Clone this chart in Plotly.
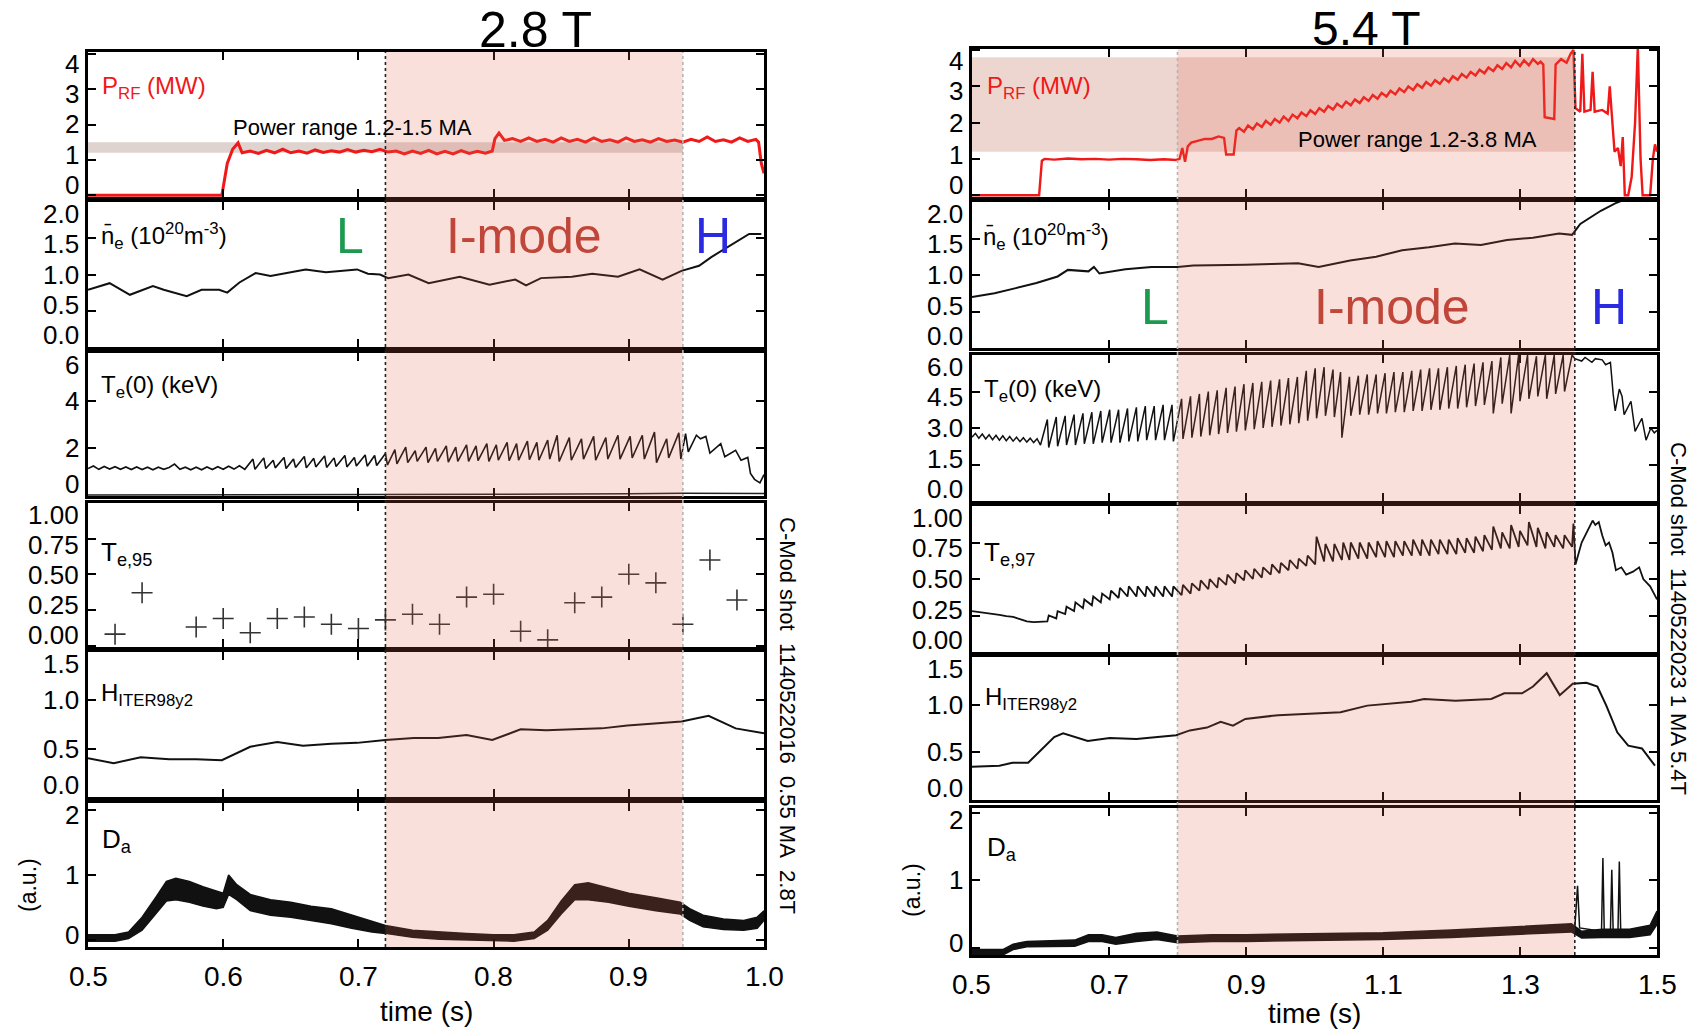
import plotly.graph_objects as go

W, H = 1699, 1030
FONT = "Liberation Sans, Arial, sans-serif"

# ----------------------------------------------------------------------
# Shot 1140522016 (2.8 T, 0.55 MA)
# ----------------------------------------------------------------------
prf28_t = [0.500, 0.599, 0.603, 0.607, 0.611, 0.614, 0.620, 0.626, 0.632, 0.638, 0.644, 0.650,
           0.656, 0.662, 0.668, 0.674, 0.680, 0.686, 0.692, 0.698, 0.704, 0.710, 0.716, 0.722,
           0.728, 0.734, 0.740, 0.746, 0.752, 0.758, 0.764, 0.770, 0.776, 0.782, 0.788, 0.794,
           0.799, 0.801, 0.804, 0.808, 0.814, 0.820, 0.826, 0.832, 0.838, 0.844, 0.850, 0.856,
           0.862, 0.868, 0.874, 0.880, 0.886, 0.892, 0.898, 0.904, 0.910, 0.916, 0.922, 0.928,
           0.934, 0.940, 0.946, 0.952, 0.958, 0.964, 0.970, 0.976, 0.982, 0.988, 0.994, 0.996,
           0.998, 1.000]
prf28_v = [0.00, 0.00, 0.90, 1.30, 1.48, 1.20, 1.25, 1.18, 1.27, 1.20, 1.30, 1.20,
           1.25, 1.19, 1.28, 1.21, 1.26, 1.22, 1.29, 1.22, 1.27, 1.23, 1.30, 1.22,
           1.25, 1.17, 1.25, 1.18, 1.27, 1.17, 1.24, 1.17, 1.26, 1.18, 1.24, 1.19,
           1.25, 1.60, 1.76, 1.55, 1.60, 1.52, 1.62, 1.52, 1.58, 1.50, 1.62, 1.52,
           1.58, 1.50, 1.62, 1.52, 1.57, 1.50, 1.62, 1.52, 1.57, 1.50, 1.60, 1.52,
           1.56, 1.50, 1.58, 1.52, 1.65, 1.52, 1.57, 1.50, 1.62, 1.52, 1.58, 1.50,
           0.90, 0.62]
power_band_28 = [1.2, 1.5]

ne28_t = [0.500, 0.516, 0.531, 0.548, 0.556, 0.573, 0.584, 0.597, 0.603, 0.612, 0.624, 0.635,
          0.661, 0.676, 0.699, 0.707, 0.716, 0.722, 0.737, 0.752, 0.775, 0.797, 0.816, 0.824,
          0.835, 0.858, 0.873, 0.892, 0.908, 0.925, 0.939, 0.952, 0.961, 0.978, 0.989, 0.998]
ne28_v = [0.79, 0.88, 0.72, 0.84, 0.79, 0.70, 0.79, 0.79, 0.75, 0.89, 1.02, 0.98,
          1.07, 1.03, 1.07, 1.01, 1.00, 0.95, 1.00, 0.88, 0.97, 0.86, 0.93, 0.85,
          0.95, 0.97, 1.01, 0.97, 1.07, 0.93, 1.05, 1.12, 1.24, 1.44, 1.56, 1.56]

te0_28_t = [0.500, 0.504, 0.508, 0.512, 0.516, 0.520, 0.524, 0.528, 0.532, 0.536, 0.540, 0.544,
            0.548, 0.552, 0.556, 0.560, 0.564, 0.568, 0.572, 0.576, 0.580, 0.584, 0.588, 0.592,
            0.596, 0.600, 0.604, 0.608, 0.612, 0.616,
            0.622, 0.6235, 0.630, 0.6315, 0.637, 0.6385, 0.645, 0.6465, 0.652, 0.6535, 0.660, 0.6615,
            0.667, 0.6685, 0.675, 0.6765, 0.682, 0.6835, 0.690, 0.6915, 0.697, 0.6985, 0.705, 0.7065,
            0.712, 0.7135, 0.720, 0.7215,
            0.727, 0.7285, 0.735, 0.7365, 0.742, 0.7435, 0.750, 0.7515, 0.757, 0.7585, 0.765, 0.7665,
            0.772, 0.7735, 0.780, 0.7815, 0.787, 0.7885, 0.795, 0.7965, 0.802, 0.8035, 0.810, 0.8115,
            0.817, 0.8185, 0.825, 0.8265, 0.832, 0.8335, 0.840, 0.8415, 0.847, 0.8485,
            0.856, 0.8575, 0.865, 0.8665, 0.874, 0.8755, 0.883, 0.8845, 0.892, 0.8935, 0.901, 0.9025,
            0.910, 0.9115, 0.919, 0.9205, 0.928, 0.9295, 0.937, 0.9385,
            0.942, 0.944, 0.950, 0.953, 0.957, 0.960, 0.968, 0.971, 0.979, 0.983, 0.988, 0.990,
            0.993, 0.997, 1.000]
te0_28_v = [1.15, 1.26, 1.12, 1.24, 1.13, 1.23, 1.12, 1.22, 1.11, 1.22, 1.11, 1.21,
            1.10, 1.21, 1.12, 1.20, 1.34, 1.12, 1.21, 1.10, 1.21, 1.10, 1.22, 1.11,
            1.23, 1.12, 1.25, 1.13, 1.27, 1.12,
            1.55, 1.12, 1.60, 1.15, 1.50, 1.18, 1.62, 1.15, 1.55, 1.20, 1.66, 1.18,
            1.58, 1.22, 1.68, 1.20, 1.60, 1.24, 1.70, 1.22, 1.62, 1.26, 1.72, 1.25,
            1.70, 1.28, 1.78, 1.30,
            1.95, 1.35, 2.05, 1.40, 1.90, 1.45, 2.05, 1.40, 2.00, 1.45, 2.10, 1.42,
            2.05, 1.45, 2.15, 1.45, 2.10, 1.48, 2.20, 1.45, 2.15, 1.50, 2.25, 1.48,
            2.20, 1.50, 2.30, 1.52, 2.25, 1.50, 2.35, 1.55, 2.55, 1.45,
            2.45, 1.50, 2.40, 1.55, 2.50, 1.50, 2.45, 1.55, 2.55, 1.55, 2.50, 1.60,
            2.55, 1.55, 2.68, 1.40, 2.40, 1.60, 2.65, 1.55,
            2.62, 1.85, 2.55, 2.40, 2.50, 1.80, 2.20, 1.65, 1.92, 1.50, 1.62, 0.95,
            0.70, 0.55, 0.90]
te0_28_floor_t = [0.50, 0.72, 0.80, 0.90, 0.94, 1.00]
te0_28_floor_v = [0.04, 0.05, 0.07, 0.09, 0.12, 0.10]

te95_t = [0.52, 0.54, 0.58, 0.60, 0.62, 0.64, 0.66, 0.68, 0.70, 0.72, 0.74, 0.76,
          0.78, 0.80, 0.82, 0.84, 0.86, 0.88, 0.90, 0.92, 0.94, 0.96, 0.98]
te95_v = [0.08, 0.37, 0.13, 0.19, 0.09, 0.19, 0.20, 0.15, 0.12, 0.18, 0.22, 0.15,
          0.34, 0.36, 0.10, 0.04, 0.30, 0.34, 0.50, 0.44, 0.15, 0.60, 0.32]

h28_t = [0.500, 0.519, 0.539, 0.560, 0.580, 0.599, 0.620, 0.640, 0.659, 0.680, 0.699, 0.720,
         0.741, 0.759, 0.780, 0.799, 0.820, 0.839, 0.859, 0.880, 0.899, 0.920, 0.939, 0.959,
         0.979, 1.000]
h28_v = [0.40, 0.35, 0.41, 0.39, 0.39, 0.38, 0.52, 0.57, 0.53, 0.55, 0.56, 0.59,
         0.61, 0.61, 0.64, 0.59, 0.70, 0.69, 0.70, 0.71, 0.74, 0.76, 0.78, 0.84,
         0.71, 0.66]

da28_t = [0.500, 0.520, 0.530, 0.540, 0.550, 0.558, 0.565, 0.575, 0.585, 0.595, 0.600, 0.604,
          0.610, 0.620, 0.635, 0.650, 0.665, 0.680, 0.695, 0.710, 0.720, 0.740, 0.760, 0.780,
          0.800, 0.815, 0.830, 0.840, 0.850, 0.860, 0.870, 0.885, 0.900, 0.920, 0.938, 0.945,
          0.955, 0.970, 0.985, 0.995, 1.000]
da28_lo = [-0.02, -0.02, 0.02, 0.15, 0.40, 0.60, 0.62, 0.58, 0.52, 0.48, 0.50, 0.70,
           0.62, 0.45, 0.38, 0.35, 0.30, 0.25, 0.18, 0.12, 0.10, 0.04, 0.01, 0.00,
           -0.02, -0.02, 0.02, 0.15, 0.40, 0.62, 0.62, 0.58, 0.52, 0.45, 0.40, 0.30,
           0.20, 0.16, 0.15, 0.18, 0.30]
da28_hi = [0.08, 0.08, 0.12, 0.35, 0.65, 0.90, 0.95, 0.90, 0.82, 0.75, 0.72, 1.00,
           0.85, 0.70, 0.62, 0.58, 0.52, 0.48, 0.38, 0.28, 0.22, 0.15, 0.12, 0.10,
           0.08, 0.08, 0.12, 0.30, 0.60, 0.85, 0.88, 0.80, 0.72, 0.65, 0.58, 0.48,
           0.38, 0.32, 0.30, 0.35, 0.45]

# ----------------------------------------------------------------------
# Shot 1140522023 (5.4 T, 1 MA)
# ----------------------------------------------------------------------
prf54_t = [0.500, 0.598, 0.602, 0.606, 0.620, 0.640, 0.660, 0.680, 0.700, 0.720, 0.740, 0.760,
           0.780, 0.798, 0.803, 0.807, 0.811, 0.815, 0.820, 0.830, 0.840, 0.850, 0.860, 0.868,
           0.871, 0.882, 0.886,
           0.890, 0.897, 0.903, 0.910, 0.916, 0.923, 0.929, 0.936, 0.942, 0.949, 0.955, 0.962,
           0.968, 0.975, 0.981, 0.988, 0.994, 1.001, 1.007, 1.014, 1.020, 1.027, 1.033, 1.040,
           1.046, 1.053, 1.059, 1.066, 1.072, 1.079, 1.085, 1.092, 1.098, 1.105, 1.111, 1.118,
           1.124, 1.131, 1.137, 1.144, 1.150, 1.157, 1.163, 1.170, 1.176, 1.183, 1.189, 1.196,
           1.202, 1.209, 1.215, 1.222, 1.228, 1.235, 1.241, 1.248, 1.254, 1.261, 1.267, 1.274,
           1.280, 1.287, 1.293, 1.300, 1.306, 1.313, 1.319, 1.326, 1.330,
           1.334, 1.336, 1.350, 1.352, 1.360, 1.368, 1.374, 1.378, 1.381, 1.388, 1.391, 1.394,
           1.403, 1.406, 1.409, 1.420, 1.428, 1.431, 1.434, 1.438, 1.443, 1.447, 1.450, 1.453,
           1.458, 1.463, 1.468, 1.472, 1.476, 1.479, 1.490, 1.494, 1.497, 1.500]
prf54_v = [0.00, 0.00, 0.95, 1.00, 0.98, 1.01, 0.99, 1.00, 0.98, 1.00, 0.99, 0.97,
           0.99, 0.97, 1.00, 1.30, 0.92, 1.35, 1.45, 1.50, 1.55, 1.55, 1.62, 1.58,
           1.12, 1.12, 1.78,
           1.85, 1.75, 1.92, 1.82, 1.98, 1.88, 2.05, 1.94, 2.10, 2.00, 2.17, 2.05,
           2.22, 2.12, 2.28, 2.18, 2.34, 2.24, 2.40, 2.30, 2.46, 2.36, 2.52, 2.42,
           2.58, 2.48, 2.64, 2.54, 2.70, 2.60, 2.76, 2.66, 2.82, 2.72, 2.88, 2.78,
           2.94, 2.84, 3.00, 2.90, 3.06, 2.96, 3.12, 3.02, 3.17, 3.07, 3.22, 3.12,
           3.28, 3.18, 3.34, 3.24, 3.40, 3.30, 3.46, 3.36, 3.52, 3.42, 3.58, 3.48,
           3.64, 3.52, 3.70, 3.56, 3.72, 3.58, 3.75, 3.62, 3.68,
           3.60, 2.15, 2.10, 3.60, 3.75, 3.65, 3.90, 4.00, 2.40, 2.30, 3.90, 2.30,
           2.35, 3.40, 2.30, 2.35, 2.25, 3.00, 2.20, 1.20, 1.30, 0.80, 1.60, 0.00,
           0.00, 0.50, 2.00, 4.10, 1.00, 0.00, 0.00, 1.00, 1.40, 1.20]
power_band_54 = [1.2, 3.8]

ne54_t = [0.500, 0.533, 0.564, 0.594, 0.625, 0.640, 0.670, 0.678, 0.686, 0.724, 0.762, 0.800,
          0.823, 0.861, 0.899, 0.937, 0.976, 1.006, 1.052, 1.090, 1.128, 1.167, 1.205, 1.243,
          1.281, 1.319, 1.357, 1.376, 1.388, 1.418, 1.441, 1.460]
ne54_v = [0.70, 0.75, 0.82, 0.89, 0.98, 1.07, 1.05, 1.11, 1.02, 1.08, 1.11, 1.11,
          1.13, 1.13, 1.14, 1.15, 1.16, 1.11, 1.20, 1.25, 1.34, 1.38, 1.43, 1.41,
          1.48, 1.51, 1.57, 1.55, 1.70, 1.88, 1.99, 2.06]

te0_54_t = [0.500, 0.505, 0.510, 0.515, 0.520, 0.525, 0.530, 0.535, 0.540, 0.545, 0.550, 0.555,
            0.560, 0.565, 0.570, 0.575, 0.580, 0.585, 0.590, 0.595, 0.600,
            0.610, 0.612, 0.623, 0.625, 0.636, 0.638, 0.649, 0.651, 0.662, 0.664, 0.675, 0.677,
            0.688, 0.690, 0.701, 0.703, 0.714, 0.716, 0.727, 0.729, 0.740, 0.742, 0.753, 0.755,
            0.766, 0.768, 0.779, 0.781, 0.792, 0.794,
            0.806, 0.808, 0.819, 0.821, 0.832, 0.834, 0.845, 0.847, 0.858, 0.860, 0.871, 0.873,
            0.884, 0.886, 0.897, 0.899, 0.910, 0.912, 0.923, 0.925, 0.936, 0.938, 0.949, 0.951,
            0.962, 0.964, 0.975, 0.977, 0.988, 0.990,
            1.001, 1.003, 1.014, 1.016, 1.027, 1.029, 1.038, 1.040, 1.051, 1.053, 1.064, 1.066,
            1.077, 1.079, 1.090, 1.092, 1.103, 1.105, 1.116, 1.118, 1.129, 1.131, 1.142, 1.144,
            1.155, 1.157, 1.168, 1.170, 1.181, 1.183, 1.194, 1.196, 1.207, 1.209, 1.220, 1.222,
            1.233, 1.235, 1.246, 1.248, 1.259, 1.261, 1.272, 1.274, 1.285, 1.287, 1.298, 1.300,
            1.311, 1.313, 1.324, 1.326, 1.337, 1.339, 1.350, 1.352, 1.363, 1.365, 1.376,
            1.380, 1.390, 1.395, 1.405, 1.410, 1.420, 1.425, 1.432, 1.436, 1.439, 1.445, 1.449,
            1.452, 1.462, 1.468, 1.478, 1.484, 1.491, 1.496, 1.500]
te0_54_v = [2.62, 2.78, 2.58, 2.75, 2.55, 2.72, 2.52, 2.70, 2.50, 2.68, 2.48, 2.65,
            2.46, 2.62, 2.44, 2.60, 2.42, 2.58, 2.40, 2.56, 2.30,
            3.35, 2.20, 3.45, 2.25, 3.50, 2.30, 3.55, 2.30, 3.60, 2.35, 3.65, 2.35,
            3.70, 2.40, 3.75, 2.40, 3.75, 2.40, 3.80, 2.45, 3.85, 2.45, 3.90, 2.50,
            3.90, 2.50, 3.95, 2.50, 3.95, 2.45,
            4.20, 2.55, 4.30, 2.60, 4.40, 2.65, 4.50, 2.70, 4.55, 2.75, 4.65, 2.80,
            4.70, 2.85, 4.80, 2.90, 4.85, 2.95, 4.90, 3.00, 4.95, 3.05, 5.00, 3.10,
            5.05, 3.15, 5.10, 3.20, 5.35, 3.30,
            5.45, 3.40, 5.50, 3.50, 5.40, 3.45, 5.30, 2.60, 5.10, 3.50, 5.15, 3.55,
            5.20, 3.55, 5.20, 3.60, 5.25, 3.60, 5.30, 3.65, 5.30, 3.65, 5.35, 3.70,
            5.40, 3.70, 5.45, 3.75, 5.45, 3.75, 5.50, 3.80, 5.55, 3.80, 5.60, 3.85,
            5.65, 3.90, 5.70, 3.95, 5.75, 3.60, 5.90, 4.00, 6.00, 3.60, 6.00, 4.10,
            6.00, 4.20, 5.95, 4.30, 6.00, 4.20, 6.00, 4.40, 6.00, 4.50, 6.00,
            5.85, 5.75, 5.90, 5.70, 5.85, 5.80, 5.60, 5.70, 4.40, 3.70, 4.60, 4.30,
            3.55, 4.10, 2.86, 3.40, 2.50, 3.00, 2.80, 2.90]

te97_t = [0.500, 0.510, 0.520, 0.530, 0.540, 0.550, 0.560, 0.570, 0.580, 0.590, 0.600, 0.605,
          0.610, 0.612, 0.623, 0.625, 0.636, 0.638, 0.649, 0.651, 0.662, 0.664, 0.675, 0.677,
          0.688, 0.690, 0.701, 0.703, 0.714, 0.716, 0.727, 0.729, 0.740, 0.742, 0.753, 0.755,
          0.766, 0.768, 0.779, 0.781, 0.792, 0.794,
          0.806, 0.808, 0.819, 0.821, 0.832, 0.834, 0.845, 0.847, 0.858, 0.860, 0.871, 0.873,
          0.884, 0.886, 0.897, 0.899, 0.910, 0.912, 0.923, 0.925, 0.936, 0.938, 0.949, 0.951,
          0.962, 0.964, 0.975, 0.977, 0.988, 0.990,
          1.001, 1.003, 1.014, 1.016, 1.027, 1.029, 1.040, 1.042, 1.051, 1.053, 1.064, 1.066,
          1.077, 1.079, 1.090, 1.092, 1.103, 1.105, 1.116, 1.118, 1.129, 1.131, 1.142, 1.144,
          1.155, 1.157, 1.168, 1.170, 1.181, 1.183, 1.194, 1.196, 1.207, 1.209, 1.220, 1.222,
          1.233, 1.235, 1.246, 1.248, 1.259, 1.261, 1.272, 1.274, 1.285, 1.287, 1.298, 1.300,
          1.311, 1.313, 1.324, 1.326, 1.337, 1.339, 1.350, 1.352, 1.363, 1.365, 1.376, 1.378,
          1.381, 1.390, 1.400, 1.406, 1.410, 1.415, 1.420, 1.425, 1.430, 1.435, 1.440, 1.448,
          1.455, 1.465, 1.474, 1.480, 1.490, 1.500]
te97_v = [0.28, 0.275, 0.27, 0.26, 0.255, 0.245, 0.24, 0.225, 0.21, 0.205, 0.205, 0.21,
          0.21, 0.25, 0.23, 0.28, 0.26, 0.31, 0.28, 0.34, 0.30, 0.36, 0.32, 0.38,
          0.34, 0.40, 0.36, 0.42, 0.37, 0.44, 0.38, 0.45, 0.38, 0.45, 0.38, 0.45,
          0.38, 0.45, 0.38, 0.45, 0.38, 0.45,
          0.39, 0.46, 0.40, 0.47, 0.42, 0.49, 0.43, 0.50, 0.44, 0.51, 0.46, 0.53,
          0.47, 0.54, 0.49, 0.56, 0.50, 0.57, 0.51, 0.58, 0.53, 0.60, 0.54, 0.61,
          0.56, 0.63, 0.57, 0.64, 0.59, 0.66,
          0.60, 0.79, 0.62, 0.74, 0.62, 0.74, 0.63, 0.75, 0.63, 0.75, 0.64, 0.75,
          0.64, 0.75, 0.65, 0.76, 0.65, 0.76, 0.65, 0.76, 0.66, 0.76, 0.66, 0.77,
          0.66, 0.77, 0.66, 0.77, 0.67, 0.77, 0.67, 0.77, 0.67, 0.78, 0.68, 0.78,
          0.68, 0.79, 0.69, 0.80, 0.70, 0.86, 0.71, 0.82, 0.71, 0.87, 0.72, 0.83,
          0.73, 0.89, 0.72, 0.85, 0.71, 0.82, 0.72, 0.80, 0.71, 0.80, 0.72, 0.88,
          0.60, 0.75, 0.85, 0.90, 0.87, 0.89, 0.80, 0.73, 0.75, 0.68, 0.56, 0.58,
          0.53, 0.55, 0.58, 0.50, 0.45, 0.36]

h54_t = [0.500, 0.540, 0.559, 0.582, 0.620, 0.633, 0.669, 0.701, 0.740, 0.798, 0.818, 0.843,
         0.863, 0.881, 0.899, 0.947, 1.038, 1.077, 1.141, 1.160, 1.206, 1.258, 1.277, 1.303,
         1.319, 1.339, 1.358, 1.377, 1.397, 1.413, 1.426, 1.442, 1.458, 1.478, 1.497]
h54_v = [0.35, 0.36, 0.39, 0.39, 0.66, 0.70, 0.62, 0.65, 0.64, 0.68, 0.73, 0.76,
         0.82, 0.78, 0.85, 0.89, 0.92, 0.99, 1.03, 1.06, 1.04, 1.06, 1.12, 1.12,
         1.19, 1.33, 1.10, 1.22, 1.23, 1.19, 0.99, 0.71, 0.57, 0.54, 0.36]

da54_t = [0.500, 0.545, 0.560, 0.580, 0.650, 0.670, 0.690, 0.710, 0.740, 0.770, 0.800, 0.850,
          0.900, 1.000, 1.100, 1.200, 1.300, 1.375, 1.390, 1.420, 1.460, 1.490, 1.500]
da54_lo = [-0.10, -0.10, -0.02, 0.02, 0.03, 0.10, 0.10, 0.06, 0.10, 0.13, 0.08, 0.10,
           0.10, 0.11, 0.13, 0.16, 0.20, 0.24, 0.15, 0.16, 0.16, 0.20, 0.35]
da54_hi = [-0.02, -0.02, 0.06, 0.10, 0.12, 0.20, 0.20, 0.16, 0.22, 0.24, 0.18, 0.20,
           0.20, 0.21, 0.23, 0.27, 0.32, 0.36, 0.25, 0.28, 0.28, 0.34, 0.55]
elm_t = [1.380, 1.384, 1.387, 1.419, 1.421, 1.423, 1.432, 1.434, 1.436, 1.443, 1.445, 1.447]
elm_v = [0.30, 0.92, 0.30, 0.25, 1.33, 0.25, 0.25, 1.16, 0.25, 0.25, 1.28, 0.25]

# mode boundaries (s)
imode_28 = [0.72, 0.94]
imode_54 = [0.80, 1.38]

# time axes
xt_28 = [0.5, 0.6, 0.7, 0.8, 0.9, 1.0]
xt_54 = [0.5, 0.7, 0.9, 1.1, 1.3, 1.5]

# ----------------------------------------------------------------------
# Panel geometry (pixel rows) and axes
# ----------------------------------------------------------------------
left_cols = (88, 764)
right_cols = (972, 1657)

left_panels = [
    (52, 197, [-0.05, 4.05], [0, 1, 2, 3, 4], ["0", "1", "2", "3", "4"]),
    (202, 347, [0, 2.0], [0, 0.5, 1, 1.5, 2], ["0.0", "0.5", "1.0", "1.5", "2.0"]),
    (353, 496, [0, 6], [0, 2, 4, 6], ["0", "2", "4", "6"]),
    (503, 647, [-0.01, 1.0], [0, 0.25, 0.5, 0.75, 1.0], ["0.00", "0.25", "0.50", "0.75", "1.00"]),
    (652, 797, [0, 1.5], [0, 0.5, 1.0, 1.5], ["0.0", "0.5", "1.0", "1.5"]),
    (803, 947, [-0.11, 2.11], [0, 1, 2], ["0", "1", "2"]),
]
right_panels = [
    (49, 197, [-0.05, 4.03], [0, 1, 2, 3, 4], ["0", "1", "2", "3", "4"]),
    (202, 348, [0, 2.0], [0, 0.5, 1, 1.5, 2], ["0.0", "0.5", "1.0", "1.5", "2.0"]),
    (355, 501, [0, 6.0], [0, 1.5, 3.0, 4.5, 6.0], ["0.0", "1.5", "3.0", "4.5", "6.0"]),
    (506, 652, [0, 1.0], [0, 0.25, 0.5, 0.75, 1.0], ["0.00", "0.25", "0.50", "0.75", "1.00"]),
    (657, 800, [0, 1.5], [0, 0.5, 1.0, 1.5], ["0.0", "0.5", "1.0", "1.5"]),
    (808, 955, [-0.1, 2.07], [0, 1, 2], ["0", "1", "2"]),
]


def px(xp):
    return xp / W


def py(yp):
    return 1 - yp / H


layout = dict(
    width=W, height=H,
    margin=dict(l=0, r=0, t=0, b=0, pad=0, autoexpand=False),
    paper_bgcolor="white", plot_bgcolor="rgba(0,0,0,0)",
    showlegend=False,
    font=dict(family=FONT, color="black"),
)

axis_common = dict(
    showline=True, linecolor="black", linewidth=2.5, mirror="ticks",
    ticks="inside", ticklen=8, tickwidth=2, tickcolor="black",
    showgrid=False, zeroline=False, fixedrange=True,
    showticklabels=False, automargin=False,
)

ann = []
TICK_SIZE = 26
EDGE = 12   # keep tick labels this far inside their own panel
GAP = 30    # smallest spacing between neighbouring tick labels


def label_rows(top, bot, yr, yv):
    """Pixel rows for the y tick labels: clamped inside the panel, evenly spread if crowded."""
    rows = [top + (yr[1] - v) / (yr[1] - yr[0]) * (bot - top) for v in yv]
    order = sorted(range(len(rows)), key=lambda k: rows[k])
    pos = [min(max(rows[k], top + EDGE), bot - EDGE) for k in order]
    for j in range(1, len(pos)):
        pos[j] = max(pos[j], pos[j - 1] + GAP)
    pos[-1] = min(pos[-1], bot - EDGE)
    for j in range(len(pos) - 2, -1, -1):
        pos[j] = min(pos[j], pos[j + 1] - GAP)
    out = [0.0] * len(rows)
    for j, k in enumerate(order):
        out[k] = rows[k] - pos[j]
    return out


for col, (cols, panels, xr, xt, xlab_y) in enumerate([
        (left_cols, left_panels, [0.5, 1.0], xt_28, 976),
        (right_cols, right_panels, [0.5, 1.5], xt_54, 984)]):
    for i, (top, bot, yr, yv, yt) in enumerate(panels):
        n = col * 6 + i + 1
        sfx = "" if n == 1 else str(n)
        layout["xaxis" + sfx] = dict(
            axis_common, domain=[px(cols[0]), px(cols[1])], range=xr,
            tickvals=xt, anchor="y" + sfx,
        )
        layout["yaxis" + sfx] = dict(
            axis_common, domain=[py(bot), py(top)], range=yr,
            tickvals=yv, anchor="x" + sfx,
        )
        for v, s, shift in zip(yv, yt, label_rows(top, bot, yr, yv)):
            ann.append(dict(x=px(cols[0] - 8), xref="paper", y=v, yref="y" + sfx,
                            yshift=shift, text=s, showarrow=False, xanchor="right",
                            yanchor="middle", borderpad=0,
                            font=dict(family=FONT, size=TICK_SIZE, color="black")))
    # x tick labels under the bottom panel
    sfx = str(col * 6 + 6)
    for v in xt:
        ann.append(dict(x=v, xref="x" + sfx, y=py(xlab_y), yref="paper",
                        text=f"{v:.1f}", showarrow=False, xanchor="center",
                        yanchor="middle", borderpad=0,
                        font=dict(family=FONT, size=28, color="black")))

fig = go.Figure(layout=layout)


def line(x, y, n, color="black", width=1.6):
    sfx = "" if n == 1 else str(n)
    fig.add_trace(go.Scatter(x=x, y=y, mode="lines", xaxis="x" + sfx, yaxis="y" + sfx,
                             line=dict(color=color, width=width), hoverinfo="skip"))


def band(x, lo, hi, n, color="black"):
    sfx = "" if n == 1 else str(n)
    fig.add_trace(go.Scatter(x=x, y=lo, mode="lines", xaxis="x" + sfx, yaxis="y" + sfx,
                             line=dict(color=color, width=1.5), hoverinfo="skip"))
    fig.add_trace(go.Scatter(x=x, y=hi, mode="lines", xaxis="x" + sfx, yaxis="y" + sfx,
                             line=dict(color=color, width=1.5), fill="tonexty",
                             fillcolor=color, hoverinfo="skip"))


RED = "#f01818"

# 2.8 T column
line(prf28_t, prf28_v, 1, RED, 3)
line(ne28_t, ne28_v, 2, "#111111", 2)
line(te0_28_floor_t, te0_28_floor_v, 3, "#222222", 1.5)
line(te0_28_t, te0_28_v, 3, "#111111", 1.6)
fig.add_trace(go.Scatter(x=te95_t, y=te95_v, mode="markers", xaxis="x4", yaxis="y4",
                         marker=dict(symbol="cross-thin", size=15, color="#333333",
                                     line=dict(width=1.6, color="#333333")),
                         hoverinfo="skip"))
line(h28_t, h28_v, 5, "#111111", 2)
band(da28_t, da28_lo, da28_hi, 6, "#111111")

# 5.4 T column
line(prf54_t, prf54_v, 7, RED, 2.4)
line(ne54_t, ne54_v, 8, "#111111", 2)
line(te0_54_t, te0_54_v, 9, "#111111", 1.5)
line(te97_t, te97_v, 10, "#111111", 1.8)
line(h54_t, h54_v, 11, "#111111", 2)
band(da54_t, da54_lo, da54_hi, 12, "#111111")
line(elm_t, elm_v, 12, "#111111", 1.5)

# ----------------------------------------------------------------------
# Shaded regions and mode boundaries
# ----------------------------------------------------------------------
shapes = []
# power ranges (under the traces)
shapes.append(dict(type="rect", xref="x", yref="y", x0=0.5, x1=imode_28[1],
                   y0=power_band_28[0], y1=power_band_28[1], layer="below",
                   fillcolor="rgba(150,110,100,0.30)", line=dict(width=0)))
shapes.append(dict(type="rect", xref="x7", yref="y7", x0=0.5, x1=imode_54[1],
                   y0=power_band_54[0], y1=power_band_54[1], layer="below",
                   fillcolor="rgba(200,120,100,0.30)", line=dict(width=0)))
# I-mode windows spanning every panel of a column
shapes.append(dict(type="rect", xref="x", yref="paper", x0=imode_28[0], x1=imode_28[1],
                   y0=py(left_panels[-1][1]), y1=py(left_panels[0][0]), layer="above",
                   fillcolor="rgba(225,100,75,0.20)", line=dict(width=0)))
shapes.append(dict(type="rect", xref="x7", yref="paper", x0=imode_54[0], x1=imode_54[1],
                   y0=py(right_panels[-1][1]), y1=py(right_panels[0][0]), layer="above",
                   fillcolor="rgba(225,100,75,0.20)", line=dict(width=0)))
# transition markers
for xref, xv, color, panels in [
        ("x", imode_28[0], "#222222", left_panels),
        ("x", imode_28[1], "#b4b4b4", left_panels),
        ("x7", imode_54[0], "#b4b4b4", right_panels),
        ("x7", imode_54[1], "#222222", right_panels)]:
    shapes.append(dict(type="line", xref=xref, yref="paper", x0=xv, x1=xv,
                       y0=py(panels[-1][1]), y1=py(panels[0][0]), layer="above",
                       line=dict(color=color, width=1.6, dash="dot")))
fig.update_layout(shapes=shapes)

# ----------------------------------------------------------------------
# Text
# ----------------------------------------------------------------------


def text(xp, yp, s, size, color="black", xanchor="left", angle=0):
    ann.append(dict(x=px(xp), y=py(yp), xref="paper", yref="paper", text=s,
                    showarrow=False, xanchor=xanchor, yanchor="middle", textangle=angle,
                    borderpad=0, font=dict(family=FONT, size=size, color=color)))


GREEN, IMODE, BLUE = "#1e9a50", "#c0463a", "#2a2ae0"
NBSP = "\u00a0"

# 2.8 T column
text(535, 30, "2.8 T", 50, xanchor="center")
text(101, 88, "P<sub>RF</sub> (MW)", 24, RED)
text(232, 128, "Power range 1.2-1.5 MA", 22)
text(100, 236, "n\u0304<sub>e</sub> (10<sup>20</sup>m<sup>-3</sup>)", 24)
text(350, 236, "L", 50, GREEN, "center")
text(524, 236, "I-mode", 50, IMODE, "center")
text(713, 236, "H", 50, BLUE, "center")
text(100, 387, "T<sub>e</sub>(0) (keV)", 24)
text(100, 553, "T<sub>e,95</sub>", 26)
text(100, 694, "H<sub>ITER98y2</sub>", 24)
text(101, 840, "D<sub>a</sub>", 26)
text(28, 885, "(a.u.)", 23, xanchor="center", angle=-90)
text(426, 1011, "time (s)", 28, xanchor="center")
text(788, 715, f"C-Mod shot{NBSP*2}1140522016{NBSP*2}0.55 MA{NBSP*2}2.8T", 22,
     xanchor="center", angle=90)

# 5.4 T column
text(1366, 29, "5.4 T", 48, xanchor="center")
text(986, 88, "P<sub>RF</sub> (MW)", 24, RED)
text(1297, 140, "Power range 1.2-3.8 MA", 22)
text(982, 237, "n\u0304<sub>e</sub> (10<sup>20</sup>m<sup>-3</sup>)", 24)
text(1155, 307, "L", 50, GREEN, "center")
text(1392, 307, "I-mode", 50, IMODE, "center")
text(1609, 307, "H", 50, BLUE, "center")
text(983, 390, "T<sub>e</sub>(0) (keV)", 24)
text(983, 553, "T<sub>e,97</sub>", 26)
text(984, 698, "H<sub>ITER98y2</sub>", 24)
text(986, 848, "D<sub>a</sub>", 26)
text(912, 890, "(a.u.)", 23, xanchor="center", angle=-90)
text(1314, 1013, "time (s)", 28, xanchor="center")
text(1679, 618, f"C-Mod shot{NBSP*2}1140522023 1 MA 5.4T", 22,
     xanchor="center", angle=90)

fig.update_layout(annotations=ann)
fig.write_html("out.html")
